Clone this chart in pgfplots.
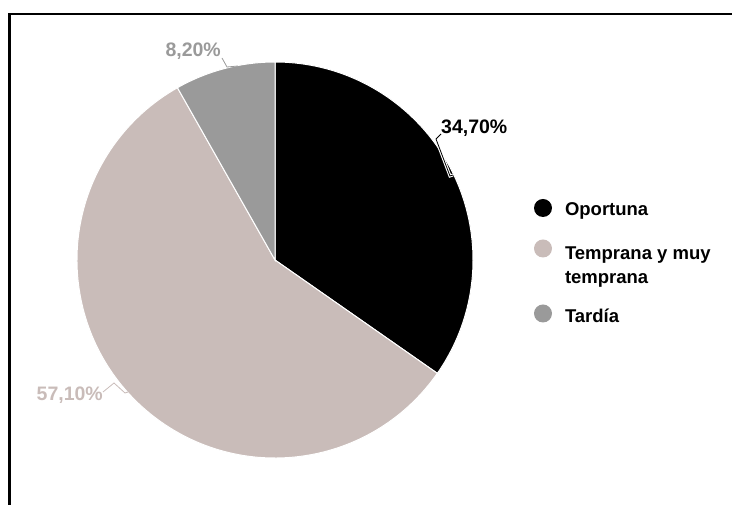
\documentclass[border=0pt]{standalone}
\usepackage{pgfplots}
\usepackage{pgfplotstable}
\pgfplotsset{compat=1.18}
\usepackage{fontspec}
\setmainfont{Liberation Sans}
\definecolor{cOport}{HTML}{000000}
\definecolor{cTemp}{HTML}{C9BCB9}
\definecolor{cTard}{HTML}{9A9A9A}
\pgfplotstableread{
name value
Oportuna 34.7
Temprana 57.1
Tardia 8.2
}\piedata
\begin{document}
\begin{tikzpicture}
\pgfplotstablegetelem{0}{value}\of\piedata \let\vA\pgfplotsretval
\pgfplotstablegetelem{1}{value}\of\piedata \let\vB\pgfplotsretval
\pgfplotstablegetelem{2}{value}\of\piedata \let\vC\pgfplotsretval
\pgfmathsetmacro\aA{90-3.6*\vA}
\pgfmathsetmacro\aB{\aA-3.6*\vB}
\pgfmathsetmacro\aC{\aB-3.6*\vC}
\begin{axis}[
  hide axis, clip=false,
  x=1bp, y=1bp, xmin=0, xmax=732, ymin=0, ymax=505,
  legend style={at={(0.7295,0.6020)}, anchor=north west, draw=none, fill=none,
    inner sep=0pt, outer sep=0pt, row sep=0pt, column sep=13bp,
    font=\fontsize{18.5bp}{23bp}\selectfont\bfseries,
    nodes={inner sep=0pt}, cells={anchor=base west}},
]
% frame
\draw[line width=2.5bp] (axis cs:9.5,0) -- (axis cs:9.5,491) -- (axis cs:732,491);
% slices
\fill[cOport, draw=white, line width=1bp] (axis cs:275,245) -- ++(90:198bp) arc[start angle=90, end angle=\aA, radius=198bp] -- cycle;
\fill[cTemp, draw=white, line width=1bp] (axis cs:275,245) -- ++(\aA:198bp) arc[start angle=\aA, end angle=\aB, radius=198bp] -- cycle;
\fill[cTard, draw=white, line width=1bp] (axis cs:275,245) -- ++(\aB:198bp) arc[start angle=\aB, end angle=\aC, radius=198bp] -- cycle;
% leader lines
\draw[white, line width=3bp] (axis cs:441,371) -- (axis cs:436,366) -- (axis cs:450,329) -- (axis cs:453,330);
\draw[black, line width=0.8bp] (axis cs:441,371) -- (axis cs:436,366) -- (axis cs:450,329) -- (axis cs:453,330);
\draw[cTard, line width=0.8bp] (axis cs:222,447) -- (axis cs:227,438) -- (axis cs:238,439);
\draw[cTemp, line width=0.8bp] (axis cs:103,113) -- (axis cs:114,122) -- (axis cs:125,112) -- (axis cs:128,113);
% labels
\node[anchor=west, inner sep=0pt, text=black, font=\fontsize{19.5bp}{22bp}\selectfont\bfseries] at (axis cs:441,377) {34,70\%};
\node[anchor=east, inner sep=0pt, text=cTard, font=\fontsize{19.5bp}{22bp}\selectfont\bfseries] at (axis cs:221,454) {8,20\%};
\node[anchor=east, inner sep=0pt, text=cTemp, font=\fontsize{19.5bp}{22bp}\selectfont\bfseries] at (axis cs:103,110) {57,10\%};
% legend
\addlegendimage{legend image code/.code={\fill[cOport, draw=none, overlay] (9bp,8bp) circle[radius=9bp]; \path[draw=none, fill=none] (0bp,0bp) rectangle (18bp,0bp);}}
\addlegendentry{\smash{Oportuna}\rule{0pt}{15bp}}
\addlegendimage{legend image code/.code={\fill[cTemp, draw=none, overlay] (9bp,11bp) circle[radius=9bp]; \path[draw=none, fill=none] (0bp,0bp) rectangle (18bp,0bp);}}
\addlegendentry{\smash{Temprana y muy}\rule{0pt}{42bp}}
\addlegendimage{legend image code/.code={\path[draw=none, fill=none] (0bp,0bp) rectangle (18bp,0bp);}}
\addlegendentry{\smash{temprana}\rule{0pt}{23bp}}
\addlegendimage{legend image code/.code={\fill[cTard, draw=none, overlay] (9bp,9bp) circle[radius=9bp]; \path[draw=none, fill=none] (0bp,0bp) rectangle (18bp,0bp);}}
\addlegendentry{\smash{Tardía}\rule{0pt}{37bp}}
\end{axis}
\pgfresetboundingbox
\useasboundingbox (0,0) rectangle (732bp,505bp);
\end{tikzpicture}
\end{document}
